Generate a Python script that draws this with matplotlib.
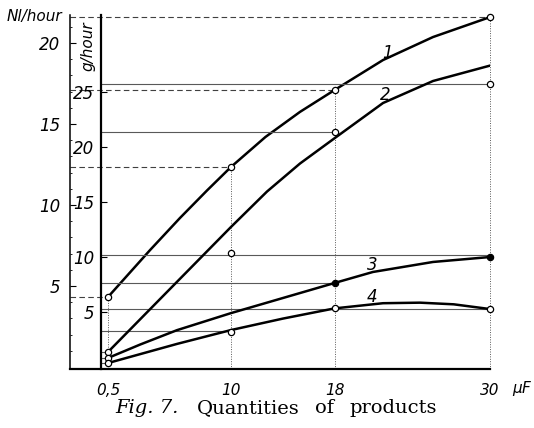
import matplotlib.pyplot as plt
import numpy as np

# --- data ---
cap_pts = [0.5, 10, 18, 30]          # measured capacitances, uF

# curve 1 (Nl/hour scale)
c1_x = [0.5, 3.75, 6.06, 8.15, 10, 12.66, 15.33, 18, 21.74, 25.6, 30]
c1_y = [4.32, 7.22, 9.2, 10.9, 12.35, 14.2, 15.75, 17.1, 18.95, 20.37, 21.6]
c1_pts = [4.32, 12.35, 17.1, 21.6]

# curves 2-4 (g/hour scale)
c2_x = [0.5, 5, 10, 12.78, 15.33, 18, 21.74, 25.6, 30]
c2_y = [1.36, 6.75, 12.73, 15.95, 18.5, 20.8, 24.0, 26.0, 27.4]
c2_pts_x = [0.5, 10, 18, 30]
c2_pts_y = [1.36, 10.36, 21.4, 25.7]

c3_x = [0.5, 3.0, 5.83, 10, 14, 18, 20.96, 25.6, 30]
c3_y = [0.82, 2.05, 3.35, 4.9, 6.27, 7.64, 8.64, 9.55, 10.0]
c3_open_x, c3_open_y = [0.5], [0.82]
c3_fill_x, c3_fill_y = [18, 30], [7.64, 10.0]

c4_x = [0.5, 5.83, 10, 14, 18, 21.74, 24.6, 27.2, 30]
c4_y = [0.36, 2.1, 3.36, 4.4, 5.33, 5.8, 5.85, 5.7, 5.27]
c4_pts_x = [0.5, 10, 18, 30]
c4_pts_y = [0.36, 3.18, 5.33, 5.27]

# reference lines from the g/hour axis to the points
ref_g = [25.7, 21.4, 10.2, 7.64, 5.27, 3.3, 1.36, 0.82, 0.36]
ref_g_end = [30, 18, 30, 18, 30, 10, 0.5, 0.5, 0.5]

nl_ticks = [5, 10, 15, 20]
g_ticks = [5, 10, 15, 20, 25]
x_labels = ['0,5', '10', '18', '30']

sans = dict(family=['Liberation Sans Narrow', 'DejaVu Sans'], style='italic')

fig = plt.figure(figsize=(5.34, 4.28), dpi=100)
ax = fig.add_axes([70/534, 59/428, 420/534, 354/428])
ax.set_xlim(-2.43, 30)
ax.set_ylim(-0.12, 21.73)
ax2 = ax.twinx()
ax2.set_ylim(-0.18, 32.0)

# spines
for s in ['top', 'right']:
    ax.spines[s].set_visible(False)
for s in ['top', 'right', 'bottom']:
    ax2.spines[s].set_visible(False)
ax.spines['left'].set_linewidth(1.1)
ax.spines['bottom'].set_linewidth(1.6)
ax2.spines['left'].set_position(('data', 0))
ax2.spines['left'].set_linewidth(1.6)
ax2.yaxis.tick_left()

# ticks
ax.set_yticks(nl_ticks)
ax.set_yticks(np.arange(1, 22), minor=True)
ax.tick_params(axis='y', direction='in', length=4, width=0.8, pad=7, labelsize=12)
ax.tick_params(axis='y', which='minor', direction='in', length=1.5, width=0.6)
ax2.set_yticks(g_ticks)
ax2.tick_params(axis='y', direction='in', length=4, width=0.8, pad=5, labelsize=12)
ax.set_xticks(cap_pts)
ax.set_xticklabels(x_labels)
ax.tick_params(axis='x', length=0, pad=10, labelsize=11)
for lab in ax.get_yticklabels() + ax2.get_yticklabels() + ax.get_xticklabels():
    lab.set_family(sans['family'])
    lab.set_style('italic')

# guide lines
ax.vlines(cap_pts, -0.12, c1_pts, colors='0.35', linestyles=(0, (1, 1.5)), lw=0.7,
          clip_on=False)
ax.hlines(c1_pts, -2.43, cap_pts, colors='0.25', linestyles=(0, (5, 3)), lw=0.8)
ax2.hlines(ref_g, 0, ref_g_end, colors='0.35', lw=0.8)

# curves
ax.plot(c1_x, c1_y, color='black', lw=1.8)
ax2.plot(c2_x, c2_y, color='black', lw=1.8)
ax2.plot(c3_x, c3_y, color='black', lw=1.8)
ax2.plot(c4_x, c4_y, color='black', lw=1.8)

mk = dict(ls='none', marker='o', ms=4.5, mec='black', mew=0.9, clip_on=False)
ax.plot(cap_pts, c1_pts, mfc='white', **mk)
ax2.plot(c2_pts_x, c2_pts_y, mfc='white', **mk)
ax2.plot(c3_open_x, c3_open_y, mfc='white', **mk)
ax2.plot(c3_fill_x, c3_fill_y, mfc='black', **mk)
ax2.plot(c4_pts_x, c4_pts_y, mfc='white', **mk)

# curve numbers
ax.text(22.05, 19.4, '1', fontsize=12, ha='center', va='center', **sans)
ax2.text(21.9, 24.7, '2', fontsize=12, ha='center', va='center', **sans)
ax2.text(20.9, 9.3, '3', fontsize=12, ha='center', va='center', **sans)
ax2.text(20.9, 6.4, '4', fontsize=12, ha='center', va='center', **sans)

# axis titles
fig.text(62/534, 1 - 17/428, 'Nl/hour', fontsize=11, ha='right', va='center', **sans)
fig.text(88/534, 1 - 46/428, 'g/hour', fontsize=11, ha='center', va='center',
         rotation=90, **sans)
fig.text(512/534, 1 - 389/428, r'$\mu F$', fontsize=11, ha='left', va='center')

# caption
cap_y = 1 - 408/428
fig.text(115/534, cap_y, 'Fig. 7.', fontsize=14, family='DejaVu Serif',
         style='italic', ha='left', va='center')
for word, px in [('Quantities', 197), ('of', 315), ('products', 349)]:
    fig.text(px/534, cap_y, word, fontsize=14, family='DejaVu Serif',
             ha='left', va='center')

fig.savefig('out.png', dpi=100)
